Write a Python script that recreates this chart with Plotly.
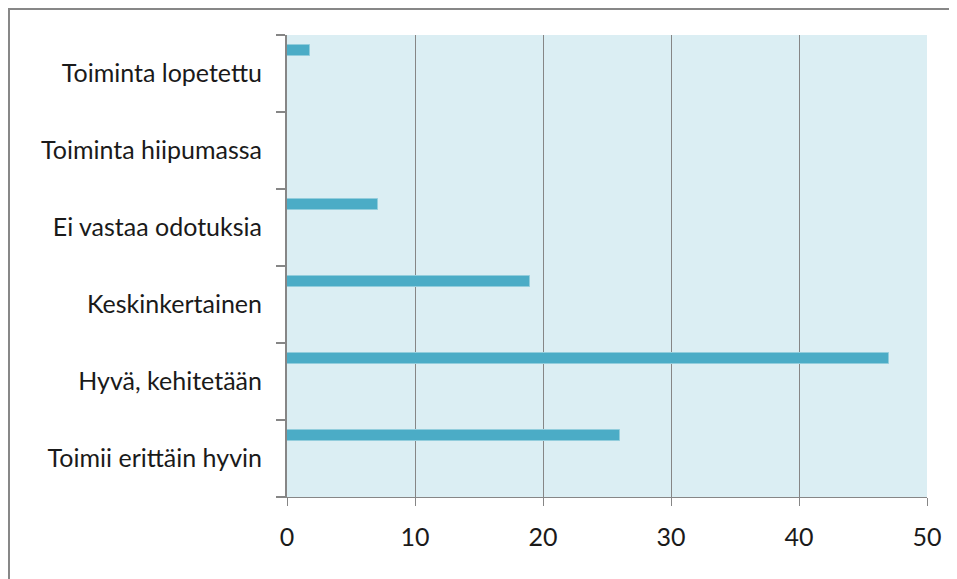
import plotly.graph_objects as go

# Categories from bottom to top (as drawn)
categories = ["Toimii erittäin hyvin", "Hyvä, kehitetään", "Keskinkertainen",
              "Ei vastaa odotuksia", "Toiminta hiipumassa", "Toiminta lopetettu"]
values = [26.0, 47.0, 19.0, 7.1, 0.0, 1.8]
x_ticks = [0, 10, 20, 30, 40, 50]

positions = list(range(len(categories)))

fig = go.Figure()
fig.add_trace(go.Bar(
    x=values,
    y=positions,
    orientation='h',
    width=0.15,
    offset=0.224,
    marker=dict(color='#4BACC6', line=dict(color='#92CDDC', width=1)),
    hoverinfo='x',
))

fig.update_layout(
    width=949, height=571,
    margin=dict(l=279, r=30, t=27, b=82),
    paper_bgcolor='white',
    plot_bgcolor='#DBEEF3',
    showlegend=False,
    font=dict(family='Lato, Open Sans, sans-serif', size=25, color='#1a1a1a'),
    bargap=0,
)

fig.update_xaxes(
    range=[0, 50],
    tickvals=x_ticks,
    showgrid=True, gridcolor='#868686', gridwidth=1,
    zeroline=False,
    showline=True, linecolor='#868686', linewidth=1,
    ticks='outside', ticklen=8, tickcolor='#868686',
    ticklabelstandoff=10,
)

fig.update_yaxes(
    range=[-0.5, len(categories) - 0.5],
    tickvals=positions,
    ticktext=categories,
    ticks='',
    showgrid=False, zeroline=False,
    showline=True, linecolor='#868686', linewidth=2,
    ticklabelstandoff=18,
    minor=dict(tickvals=[p - 0.5 for p in positions] + [len(categories) - 0.5],
               ticks='outside', ticklen=9, tickcolor='#868686', tickwidth=2,
               showgrid=False),
)

# Outer chart frame (only its top and left edges are inside the view)
fig.add_shape(type='rect', xref='paper', yref='paper',
              x0=-0.4344, x1=1.2, y0=-0.3, y1=1.0563,
              line=dict(color='#878787', width=2), layer='below')

fig.write_html("out.html")
